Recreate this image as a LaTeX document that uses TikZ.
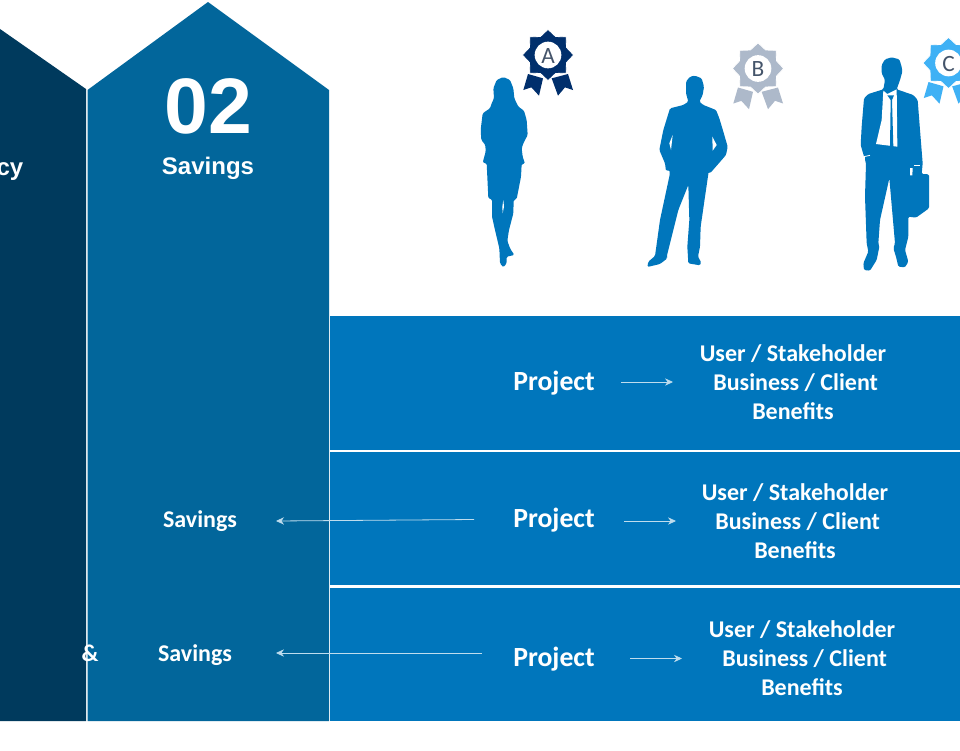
\documentclass[tikz,border=0pt]{standalone}
\usepackage{fontspec}
\setmainfont{Carlito}
\newfontfamily\headfont{Liberation Sans}
\usetikzlibrary{arrows.meta}
\definecolor{navycol}{HTML}{003A5D}
\definecolor{midcol}{HTML}{02669B}
\definecolor{rowcol}{HTML}{0076BC}
\definecolor{badgeA}{HTML}{002F6C}
\definecolor{badgeB}{HTML}{ADB9CA}
\definecolor{badgeC}{HTML}{3FB1F5}
\definecolor{lettercol}{HTML}{44546A}
\tikzset{
  rowbox/.style={fill=rowcol,draw=none},
  projtext/.style={font=\fontsize{20.8}{24}\selectfont\bfseries,text=white,anchor=base,inner sep=0pt},
  bentext/.style={font=\fontsize{18}{21.75}\selectfont\bfseries,text=white,align=center,inner sep=0pt},
  savtext/.style={font=\fontsize{18}{21}\selectfont\bfseries,text=white,anchor=base,inner sep=0pt},
  headtext/.style={font=\headfont\fontsize{18}{21}\selectfont\bfseries,text=white,anchor=base,inner sep=0pt},
  thinarrow/.style={draw=white!75!rowcol,line width=.6pt,-{Stealth[length=6pt,width=5.5pt]}},
  zoomed/.style={x=.25pt,y=-.25pt},
  lettertext/.style={font=\fontsize{17.5}{19}\selectfont,text=lettercol,inner sep=0pt}
}
% #1 node name, #2 centre x, #3 centre y, #4 colour, #5 letter
\newcommand{\rosette}[5]{%
  \begin{scope}[shift={(#2,#3)},zoomed]
    \fill[#4] (-60,57)--(-15,70)--(-27,122)--(-50,97)--(-74,105)--cycle;
    \fill[#4] (11,70)--(60,57)--(75,105)--(51,97)--(30,122)--cycle;
    \filldraw[fill=#4,draw=white,line width=.6pt] (90:77)--(67.5:60)--(45:77)--(22.5:60)--(0:77)--(-22.5:60)--(-45:77)--(-67.5:60)--(-90:77)--(-112.5:60)--(-135:77)--(-157.5:60)--(180:77)--(157.5:60)--(135:77)--(112.5:60)--cycle;
    \fill[white] (0,0) circle (40);
    \node[lettertext] (#1) at (0,2) {#5};
  \end{scope}}
\newcommand{\benlines}{User / Stakeholder\\\hspace*{4pt}Business / Client\\Benefits}
\begin{document}
\begin{tikzpicture}[x=.75pt,y=-.75pt]
\useasboundingbox (0,0) rectangle (960,750);
\clip (0,0) rectangle (960,750);
\fill[white] (0,0) rectangle (960,750);
% columns
\fill[navycol] (-10,22) -- (86,89) -- (86,721) -- (-10,721) -- cycle;
\fill[midcol] (87.5,90) -- (208,2) -- (329,90) -- (329,721) -- (87.5,721) -- cycle;
\node[headtext] (cy) at (10,175) {cy};
\node[font=\headfont\fontsize{59}{60}\selectfont\bfseries,text=white,anchor=base,inner sep=0pt] (num) at (208.5,133) {02};
\node[headtext] (savhead) at (208,174) {Savings};
% rows
\fill[rowbox] (330,316) rectangle (960,450);
\fill[rowbox] (330,452) rectangle (960,585);
\fill[rowbox] (330,588) rectangle (960,721);
% row texts
\node[projtext] (p1) at (554,390) {Project};
\node[projtext] (p2) at (554,527) {Project};
\node[projtext] (p3) at (554,666) {Project};
\node[bentext] (b1) at (793,382) {\benlines};
\node[bentext] (b2) at (795,521) {\benlines};
\node[bentext] (b3) at (802,658) {\benlines};
\node[savtext] (s2) at (200,527) {Savings};
\node[savtext] (s3) at (195,661) {Savings};
\node[savtext] (amp) at (90,661) {\&};
% connectors
\coordinate (o1) at (621,382); \coordinate (e1) at (673,382);
\coordinate (o2) at (624,521); \coordinate (e2) at (676,521);
\coordinate (o3) at (630,658.5); \coordinate (e3) at (682,658.5);
\draw[thinarrow] (o1) -- (e1);
\draw[thinarrow] (o2) -- (e2);
\draw[thinarrow] (o3) -- (e3);
\coordinate (l2) at (474,519.5); \coordinate (t2) at (276,521);
\coordinate (l3) at (482,653); \coordinate (t3) at (276,653);
\draw[thinarrow] (l2) -- (t2);
\draw[thinarrow] (l3) -- (t3);
% woman
\begin{scope}[shift={(460,0)},zoomed]
\fill[rowcol,rounded corners=1pt] (130,231)--(150,240)--(160,265)--(163,295)--(175,320)--(192,332)--(200,360)--(203,405)--(190,430)--(185,445)--(188,470)--(195,491)--(185,492)--(183,530)--(170,597)--(161,600)--(160,640)--(147,690)--(142,722)--(150,745)--(163,765)--(140,770)--(140,790)--(130,802)--(120,790)--(118,745)--(105,690)--(96,650)--(96,598)--(85,595)--(80,490)--(68,488)--(77,455)--(76,435)--(64,420)--(62,390)--(68,340)--(90,325)--(95,310)--(102,295)--(100,265)--(110,240)--cycle;
\fill[white] (130,600)--(132,620)--(128,640)--(127,620)--cycle;
\end{scope}
% man B
\begin{scope}[shift={(630,30)},zoomed]
\fill[rowcol,rounded corners=1pt] (195,137)--(215,145)--(222,170)--(218,195)--(208,215)--(220,225)--(258,240)--(268,265)--(280,305)--(293,350)--(288,375)--(262,405)--(240,430)--(236,425)--(225,500)--(212,590)--(210,650)--(204,680)--(214,698)--(210,706)--(175,700)--(172,650)--(178,570)--(175,465)--(145,540)--(110,680)--(112,685)--(90,702)--(52,711)--(55,695)--(75,678)--(90,570)--(120,430)--(118,420)--(108,423)--(105,400)--(88,360)--(100,300)--(120,235)--(160,225)--(175,215)--(168,190)--(168,155)--(180,140)--cycle;
\fill[white] (128,315)--(118,340)--(123,360)--cycle;
\fill[white] (247,320)--(260,345)--(248,362)--cycle;
\end{scope}
% man C
\begin{scope}[shift={(840,30)},zoomed]
\fill[rowcol,rounded corners=1pt] (155,82)--(178,88)--(185,110)--(187,125)--(180,150)--(170,178)--(220,195)--(233,210)--(240,300)--(248,400)--(245,432)--(267,433)--(267,535)--(228,563)--(205,560)--(205,620)--(195,660)--(205,695)--(195,712)--(175,710)--(168,680)--(160,655)--(165,640)--(148,445)--(120,570)--(115,640)--(118,650)--(110,690)--(90,722)--(72,720)--(70,700)--(85,665)--(80,640)--(75,500)--(78,400)--(62,345)--(65,290)--(72,205)--(85,192)--(130,178)--(135,150)--(125,130)--(125,105)--(135,88)--cycle;
\fill[white] (130,182)--(142,192)--(170,178)--(172,350)--(108,342)--(125,270)--cycle;
\fill[rowcol] (142,196)--(162,196)--(156,210)--(160,351)--(150,351)--(152,210)--cycle;
\draw[white,line width=.6pt] (72,380)--(90,376);
\draw[white,line width=.6pt] (72,382)--(72,400);
\draw[white,line width=.6pt] (222,405)--(240,405);
\fill[white] (210,414)--(218,414)--(217,436)--(210,436)--cycle;
\end{scope}
% badges
\rosette{la}{548}{55}{badgeA}{A}
\rosette{lb}{758}{68.5}{badgeB}{B}
\rosette{lc}{948.5}{63}{badgeC}{C}
\end{tikzpicture}
\end{document}
